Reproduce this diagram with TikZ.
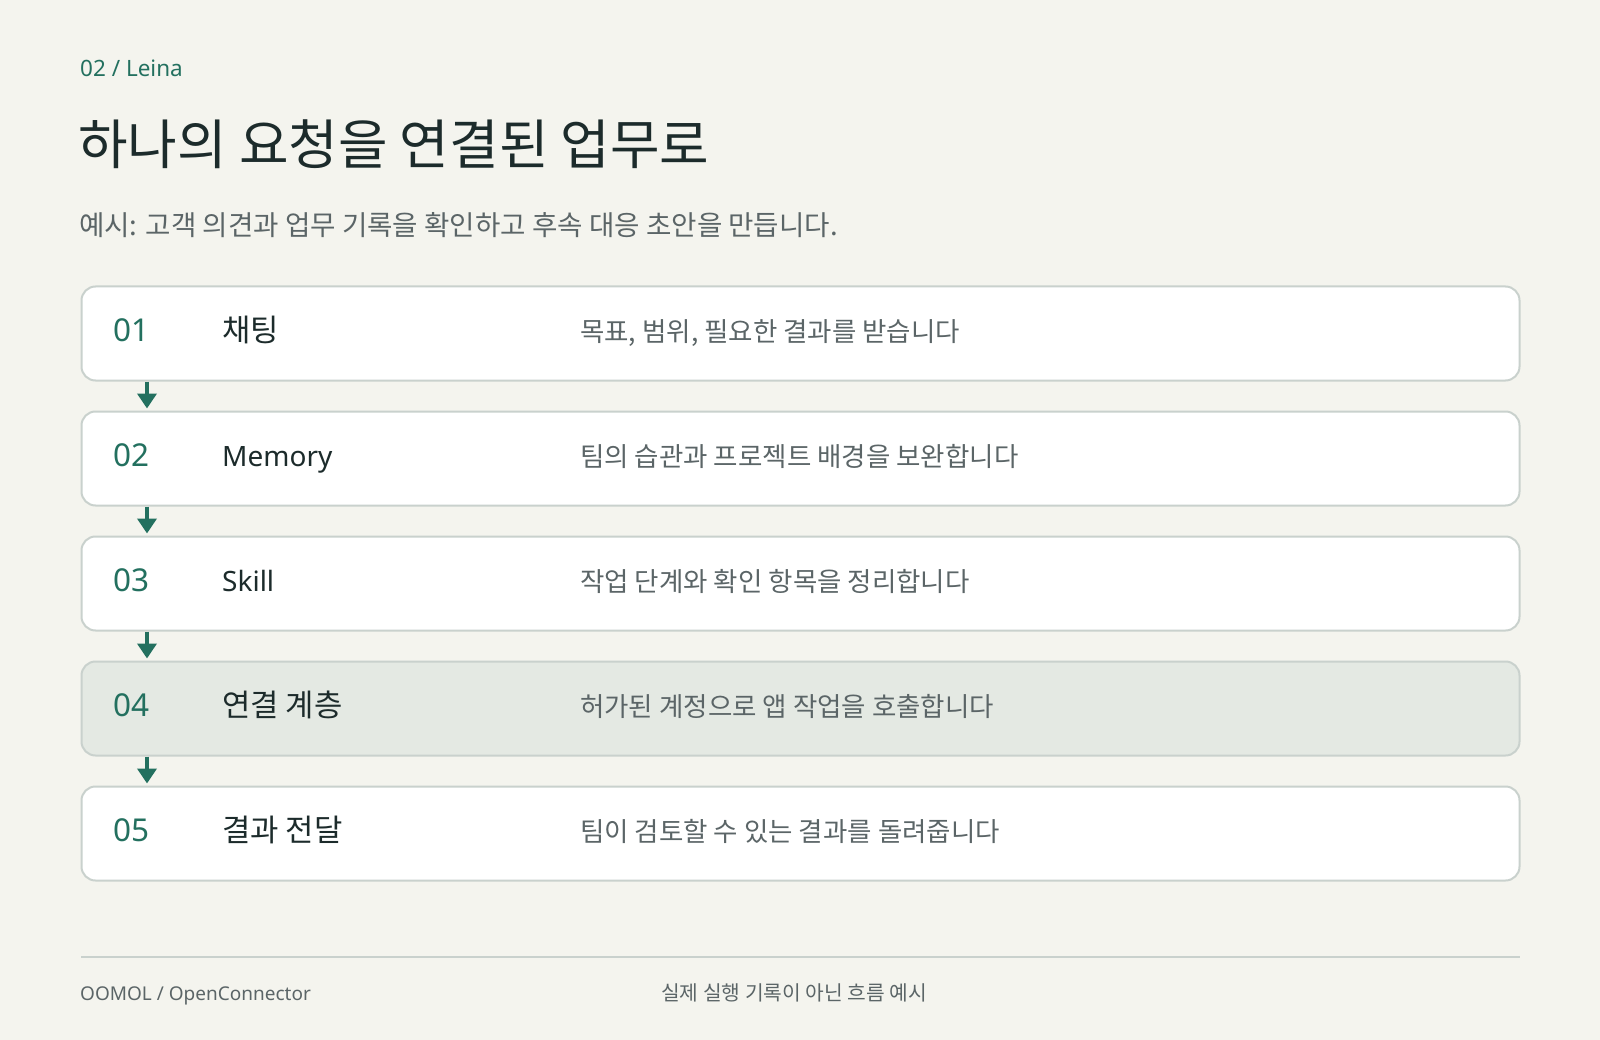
\documentclass[tikz,border=0pt]{standalone}
\usepackage{fontspec}
\setmainfont{Noto Sans}
\newfontfamily\krfont{Noto Sans CJK KR}
\usetikzlibrary{arrows.meta}

\definecolor{bgcol}{HTML}{F4F4EE}
\definecolor{linecol}{HTML}{C9D1CD}
\definecolor{accent}{HTML}{23705F}
\definecolor{inkcol}{HTML}{1C2B2B}
\definecolor{graycol}{HTML}{5B6567}
\definecolor{hilite}{HTML}{E4E9E3}

\tikzset{
  rowbox/.style={draw=linecol, line width=2pt, fill=white, rounded corners=14pt,
    minimum width=1438pt, minimum height=94pt, inner sep=0pt},
  numtext/.style={anchor=base west, inner sep=0pt, text=accent, font=\fontsize{31.5}{36}\selectfont},
  steptext/.style={anchor=base west, inner sep=0pt, text=inkcol, font=\fontsize{28}{34}\selectfont},
  krstep/.style={steptext, font=\krfont\fontsize{30.8}{36}\selectfont},
  desctext/.style={anchor=base west, inner sep=0pt, text=graycol, font=\krfont\fontsize{26.5}{32}\selectfont},
  flow/.style={draw=accent, line width=4pt, shorten >=2pt, -{Triangle[width=19pt,length=15pt]}}
}

\begin{document}
\begin{tikzpicture}[x=1pt, y=-1pt]
  \fill[bgcol] (0,0) rectangle (1600,1040);
  \useasboundingbox (0,0) rectangle (1600,1040);

  % Header
  \node[anchor=base west, inner sep=0pt, text=accent, font=\fontsize{22.5}{26}\selectfont] (tag) at (80,77) {02 / Leina};
  \node[anchor=base west, inner sep=0pt, text=inkcol, font=\krfont\fontsize{53.9}{60}\selectfont] (title) at (78,165) {하나의 요청을 연결된 업무로};
  \node[anchor=base west, inner sep=0pt, text=graycol, font=\krfont\fontsize{27.6}{34}\selectfont] (sub) at (79,236) {예시: 고객 의견과 업무 기록을 확인하고 후속 대응 초안을 만듭니다.};

  % Boxes
  \node[rowbox] (b1) at (800.5,333.5) {};
  \node[rowbox] (b2) at (800.5,458.5) {};
  \node[rowbox] (b3) at (800.5,583.5) {};
  \node[rowbox, fill=hilite] (b4) at (800.5,708.5) {};
  \node[rowbox] (b5) at (800.5,833.5) {};

  % Numbers
  \node[numtext] (n1) at (113,341.5) {01};
  \node[numtext] (n2) at (113,466.5) {02};
  \node[numtext] (n3) at (113,591.5) {03};
  \node[numtext] (n4) at (113,716.5) {04};
  \node[numtext] (n5) at (113,841.5) {05};

  % Steps
  \node[krstep] (s1) at (222,341.5) {채팅};
  \node[steptext] (s2) at (222,466.5) {Memory};
  \node[steptext] (s3) at (222,591.5) {Skill};
  \node[krstep] (s4) at (222,716.5) {연결 계층};
  \node[krstep] (s5) at (222,841.5) {결과 전달};

  % Descriptions
  \node[desctext] (d1) at (580,341.5) {목표, 범위, 필요한 결과를 받습니다};
  \node[desctext] (d2) at (580,466.5) {팀의 습관과 프로젝트 배경을 보완합니다};
  \node[desctext] (d3) at (580,591.5) {작업 단계와 확인 항목을 정리합니다};
  \node[desctext] (d4) at (580,716.5) {허가된 계정으로 앱 작업을 호출합니다};
  \node[desctext] (d5) at (580,841.5) {팀이 검토할 수 있는 결과를 돌려줍니다};

  % Arrows
  \coordinate (ax) at (147,0);
  \draw[flow] (b1.south -| ax) -- (b2.north -| ax);
  \draw[flow] (b2.south -| ax) -- (b3.north -| ax);
  \draw[flow] (b3.south -| ax) -- (b4.north -| ax);
  \draw[flow] (b4.south -| ax) -- (b5.north -| ax);

  % Footer
  \coordinate (fl) at (81,957);
  \coordinate (fr) at (1520,957);
  \draw[linecol, line width=2.5pt] (fl) -- (fr);
  \node[anchor=base west, inner sep=0pt, text=graycol, font=\fontsize{19}{24}\selectfont] (brand) at (80,1000) {OOMOL / OpenConnector};
  \node[anchor=base west, inner sep=0pt, text=graycol, font=\krfont\fontsize{20.3}{26}\selectfont] (note) at (661,1000) {실제 실행 기록이 아닌 흐름 예시};
\end{tikzpicture}
\end{document}
